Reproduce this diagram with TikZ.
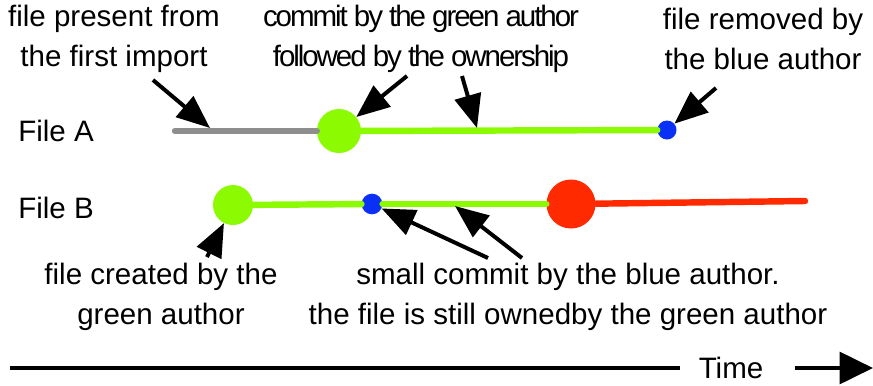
\documentclass[tikz,border=0pt]{standalone}
\usepackage{fontspec}
\setmainfont{Liberation Sans}
\newfontfamily\tightfont[LetterSpace=-7]{Liberation Sans}
\usepackage{xcolor}
\definecolor{mygreen}{HTML}{8CFA00}
\definecolor{mygray}{HTML}{8E8E8E}
\definecolor{myblue}{HTML}{0A30F5}
\definecolor{myred}{HTML}{FF2A00}
\usetikzlibrary{arrows.meta,positioning}
\tikzstyle{note} = [inner sep=0pt, align=center, font=\fontsize{25.2}{34.5}\selectfont]
\tikzstyle{dot} = [circle, inner sep=0pt]
\tikzstyle{track} = [line width=5.5pt, line cap=round]
\tikzstyle{pointer} = [draw, line width=3.4pt, -{Triangle[length=1.0cm, width=0.8cm]}]

\begin{document}
\begin{tikzpicture}[x=0.03cm, y=-0.03cm]
    \useasboundingbox (0,0) rectangle (873,385);

    % Nodes
    \node [note] (fileA) at (56,131) {File A};
    \node [note] (fileB) at (56,208) {File B};

    \node [note] (presentNote) at (114,39) {file present from\\the first import};
    \node [note, font=\tightfont\fontsize{25.2}{34.5}\selectfont] (commitNote) at (421,39) {commit by the green author\\followed by the ownership};
    \node [note] (removedNote) at (763,39) {file removed by\\the blue author};
    \node [note] (createdNote) at (161,297) {file created by the\\green author};
    \node [note] (smallNote) at (568,297) {small commit by the blue author.\\the file is still ownedby the green author};

    % File A
    \coordinate (startA) at (175,131);
    \node [dot, fill=mygreen, minimum size=1.32cm] (greenA) at (339,131) {};
    \node [dot, fill=myblue, minimum size=0.57cm] (blueA) at (667,130) {};
    \draw [track, mygray] (startA) -- (greenA);
    \draw [track, mygreen] (greenA) -- (blueA);

    % File B
    \node [dot, fill=mygreen, minimum size=1.2cm] (greenB) at (233,205) {};
    \node [dot, fill=myblue, minimum size=0.62cm] (blueB) at (372,204) {};
    \node [dot, fill=myred, minimum size=1.47cm] (redB) at (571,204) {};
    \coordinate (endB) at (805,201);
    \draw [track, mygreen] (greenB) -- (blueB);
    \draw [track, mygreen] (blueB) -- (redB);
    \draw [track, myred] (redB) -- (endB);

    % Pointers
    \coordinate (presentTail) at (153,80);
    \coordinate (presentTip) at (210,128);
    \coordinate (commitTail) at (407,76);
    \coordinate (ownTail) at (462,76);
    \coordinate (ownTip) at (477,128);
    \coordinate (removedTail) at (716,88);
    \coordinate (createdTail) at (207,257);
    \coordinate (smallTailA) at (488,258);
    \coordinate (smallTailB) at (522,258);
    \coordinate (smallTip) at (455,206);

    \draw [pointer] (presentTail) -- (presentTip);
    \draw [pointer] (commitTail) -- (greenA);
    \draw [pointer] (ownTail) -- (ownTip);
    \draw [pointer] (removedTail) -- (blueA);
    \draw [pointer] (createdTail) -- (greenB);
    \draw [pointer] (smallTailA) -- (blueB);
    \draw [pointer] (smallTailB) -- (smallTip);

    % Time axis
    \coordinate (timeStart) at (10,368);
    \coordinate (timeEnd) at (873,368);
    \node [note, inner xsep=0.57cm] (timeNote) at (731,368) {Time};
    \draw [line width=3.4pt] (timeStart) -- (timeNote.west);
    \draw [line width=3.4pt, -{Triangle[length=1.0cm, width=0.95cm]}] ([xshift=0.36cm]timeNote.east) -- (timeEnd);

\end{tikzpicture}
\end{document}
